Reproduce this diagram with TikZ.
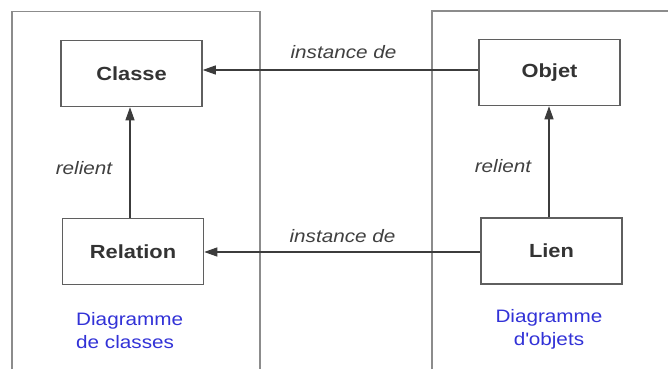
\documentclass[tikz,border=0pt]{standalone}
\usepackage{fontspec}
\setmainfont{Liberation Sans}[FakeStretch=1.15]
\usetikzlibrary{arrows.meta}
\definecolor{framegray}{RGB}{140,140,140}
\definecolor{boxgray}{RGB}{95,95,95}
\definecolor{linegray}{RGB}{60,60,60}
\definecolor{diagblue}{RGB}{50,50,215}
\tikzset{
  framebox/.style={draw=framegray, line width=1.5pt},
  classbox/.style={draw=boxgray, line width=1.5pt, fill=white, minimum width=141pt, minimum height=66pt, inner sep=0pt,
    font=\fontsize{19pt}{22pt}\selectfont\bfseries, text=black!80},
  conn/.style={draw=linegray, line width=1.2pt, -{Triangle[length=13pt,width=9pt]}},
  lbl/.style={font=\fontsize{18pt}{21pt}\selectfont\itshape, text=black!75, inner sep=0pt, anchor=base},
  bluelbl/.style={font=\fontsize{18pt}{23pt}\selectfont, text=diagblue, inner sep=0pt}
}
\begin{document}
\begin{tikzpicture}[x=1pt,y=-1pt]
\useasboundingbox (0,0) rectangle (668,369);
\fill[white] (0,0) rectangle (668,369);
% frames
\draw[framebox] (12,369) -- (12,11.5) -- (260,11.5) -- (260,369);
\draw[framebox] (432,369) -- (432,11) -- (668,11);
% boxes
\node[classbox] (classe) at (131.5,73.5) {Classe};
\node[classbox] (relation) at (133,251.5) {Relation};
\node[classbox] (objet) at (549.5,72.5) {Objet};
\node[classbox] (lien) at (551.5,251) {Lien};
% connectors
\draw[conn] (objet.west |- 0,70) -- (classe.east |- 0,70);
\draw[conn] (lien.west |- 0,252) -- (relation.east |- 0,252);
\draw[conn] (relation.north -| 130,0) -- (classe.south -| 130,0);
\draw[conn] (lien.north -| 549,0) -- (objet.south -| 549,0);
% labels
\node[lbl] (l1) at (343.5,58) {instance de};
\node[lbl] (l2) at (342.5,242) {instance de};
\node[lbl] (l3) at (84,174) {relient};
\node[lbl] (l4) at (503,172) {relient};
\node[bluelbl, align=left, anchor=north west] (d1) at (76,312) {Diagramme\\de classes};
\node[bluelbl, align=center, anchor=north] (d2) at (549,309) {Diagramme\\d\textquotesingle objets};
\end{tikzpicture}
\end{document}
